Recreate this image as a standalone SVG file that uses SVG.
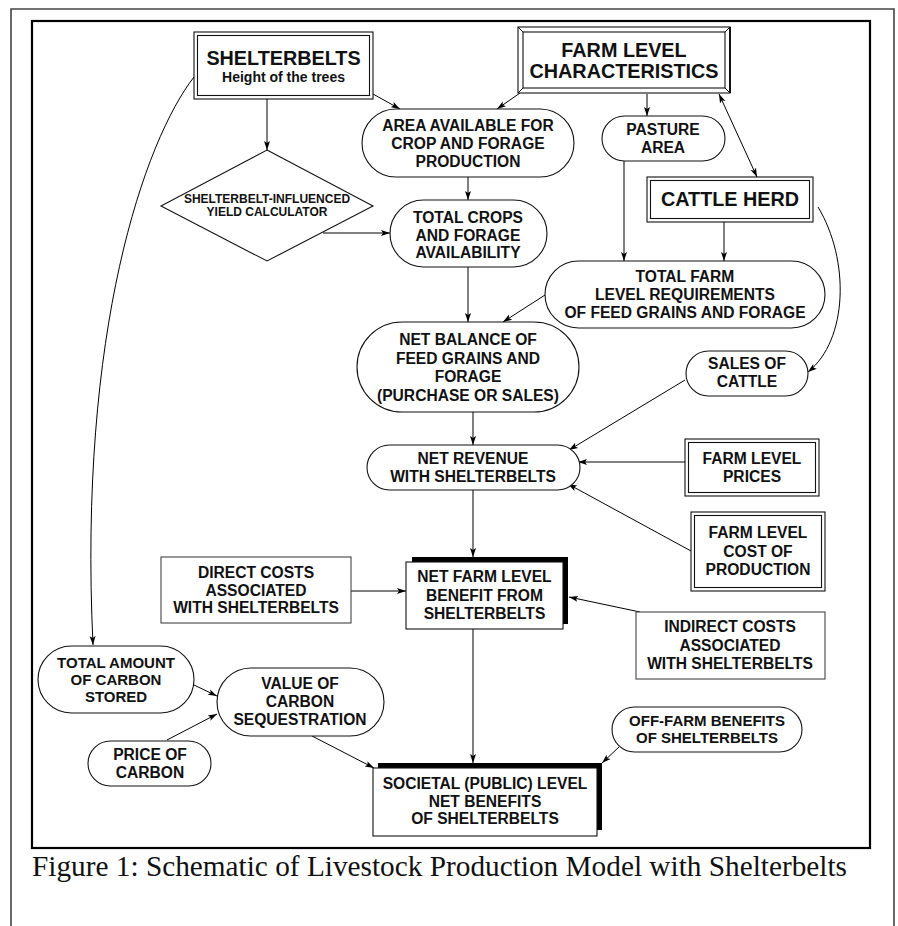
<svg xmlns="http://www.w3.org/2000/svg" width="898" height="926" viewBox="0 0 898 926">
<style>
.n{fill:#fff;stroke:#111;stroke-width:1.1}
.t{font-family:"Liberation Sans",Arial,sans-serif;font-weight:bold;font-size:15.6px;text-anchor:middle;fill:#111}
.big{font-size:19.8px}
.sm{font-size:15px}
.c{fill:none;stroke:#000;stroke-width:1}
.sh{fill:#000}
</style>
<defs>
<marker id="ah" markerWidth="10" markerHeight="8" refX="9" refY="4" orient="auto-start-reverse" markerUnits="userSpaceOnUse"><path d="M0,1 L9,4 L0,7 L2,4 z" fill="#000"/></marker>
</defs>
<rect width="898" height="926" fill="#fff"/>
<g id="frame">
<path d="M11,926 L11,9 L894,9 L894,926" fill="none" stroke="#444" stroke-width="1.6"/>
<rect x="32" y="21" width="838" height="827" fill="none" stroke="#000" stroke-width="2.2"/>
</g>
<g id="connectors">
<line class="c" x1="267" y1="99" x2="267" y2="150" marker-end="url(#ah)"/>
<line class="c" x1="373" y1="94" x2="400" y2="109" marker-end="url(#ah)"/>
<line class="c" x1="520" y1="93" x2="497" y2="109" marker-end="url(#ah)"/>
<line class="c" x1="647" y1="94" x2="647" y2="116" marker-end="url(#ah)"/>
<line class="c" x1="719" y1="94" x2="757" y2="177" marker-start="url(#ah)" marker-end="url(#ah)"/>
<line class="c" x1="323" y1="233" x2="390" y2="233" marker-end="url(#ah)"/>
<line class="c" x1="468" y1="177" x2="468" y2="200" marker-end="url(#ah)"/>
<line class="c" x1="624" y1="161" x2="624" y2="261" marker-end="url(#ah)"/>
<line class="c" x1="724" y1="222" x2="724" y2="261" marker-end="url(#ah)"/>
<path class="c" d="M818,207 C850,260 848,340 808,372" marker-end="url(#ah)"/>
<line class="c" x1="468" y1="267" x2="468" y2="322" marker-end="url(#ah)"/>
<line class="c" x1="545" y1="295" x2="503" y2="322" marker-end="url(#ah)"/>
<line class="c" x1="473" y1="412" x2="473" y2="445" marker-end="url(#ah)"/>
<line class="c" x1="685" y1="380" x2="569" y2="450" marker-end="url(#ah)"/>
<line class="c" x1="685" y1="462" x2="578" y2="462" marker-end="url(#ah)"/>
<line class="c" x1="691" y1="551" x2="568" y2="484" marker-end="url(#ah)"/>
<line class="c" x1="473" y1="490" x2="473" y2="557" marker-end="url(#ah)"/>
<line class="c" x1="351" y1="591" x2="406" y2="591" marker-end="url(#ah)"/>
<line class="c" x1="640" y1="612" x2="569" y2="597" marker-end="url(#ah)"/>
<line class="c" x1="473" y1="629" x2="473" y2="763" marker-end="url(#ah)"/>
<path class="c" d="M194,77 C145,140 78,330 93,645" marker-end="url(#ah)"/>
<line class="c" x1="194" y1="685" x2="217" y2="696" marker-end="url(#ah)"/>
<line class="c" x1="167" y1="740" x2="217" y2="714" marker-end="url(#ah)"/>
<line class="c" x1="312" y1="736" x2="374" y2="768" marker-end="url(#ah)"/>
<line class="c" x1="619" y1="747" x2="602" y2="763" marker-end="url(#ah)"/>
</g>
<g id="shelterbelts">
<rect class="n" x="194" y="32" width="179" height="67"/>
<rect class="n" x="197.5" y="35.5" width="172" height="60"/>
<text class="t big" x="283.5" y="65">SHELTERBELTS</text>
<text class="t" x="283.5" y="82" style="font-size:14px">Height of the trees</text>
</g>
<g id="farm-level-characteristics">
<rect class="n" x="518" y="27" width="212" height="66"/>
<rect class="n" x="523" y="32" width="202" height="56"/>
<path d="M518,27 L523,32 M730,27 L725,32 M518,93 L523,88 M730,93 L725,88" stroke="#111" stroke-width="1"/>
<line x1="730" y1="27" x2="730" y2="93" stroke="#111" stroke-width="2"/>
<text class="t big" x="624" y="57">FARM LEVEL</text>
<text class="t big" x="624" y="78">CHARACTERISTICS</text>
</g>
<g id="area-available">
<rect class="n" x="362" y="109" width="212" height="68" rx="34"/>
<text class="t" x="468" y="131">AREA AVAILABLE FOR</text>
<text class="t" x="468" y="149">CROP AND FORAGE</text>
<text class="t" x="468" y="167">PRODUCTION</text>
</g>
<g id="pasture-area">
<rect class="n" x="602" y="116" width="123" height="45" rx="22.5"/>
<text class="t" x="663" y="135">PASTURE</text>
<text class="t" x="663" y="153">AREA</text>
</g>
<g id="cattle-herd">
<rect class="n" x="647" y="177" width="166" height="45"/>
<rect class="n" x="650.5" y="180.5" width="159" height="38"/>
<text class="t big" x="730" y="206">CATTLE HERD</text>
</g>
<g id="yield-calculator">
<polygon class="n" points="267,150 373,206 267,261 161,206"/>
<text class="t" x="267" y="203" style="font-size:12px">SHELTERBELT-INFLUENCED</text>
<text class="t" x="267" y="215.5" style="font-size:12px">YIELD CALCULATOR</text>
</g>
<g id="total-crops">
<rect class="n" x="390" y="200" width="157" height="67" rx="33.5"/>
<text class="t" x="468" y="223">TOTAL CROPS</text>
<text class="t" x="468" y="240.5">AND FORAGE</text>
<text class="t" x="468" y="258">AVAILABILITY</text>
</g>
<g id="total-farm-requirements">
<rect class="n" x="545" y="261" width="280" height="67" rx="33.5"/>
<text class="t" x="685" y="282">TOTAL FARM</text>
<text class="t" x="685" y="300">LEVEL REQUIREMENTS</text>
<text class="t" x="685" y="318">OF FEED GRAINS AND FORAGE</text>
</g>
<g id="net-balance">
<rect class="n" x="357" y="322" width="222" height="90" rx="45"/>
<text class="t" x="468" y="345">NET BALANCE OF</text>
<text class="t" x="468" y="363.5">FEED GRAINS AND</text>
<text class="t" x="468" y="382">FORAGE</text>
<text class="t" x="468" y="401">(PURCHASE OR SALES)</text>
</g>
<g id="sales-of-cattle">
<rect class="n" x="686" y="351" width="122" height="45" rx="22.5"/>
<text class="t" x="747" y="369">SALES OF</text>
<text class="t" x="747" y="387">CATTLE</text>
</g>
<g id="net-revenue">
<rect class="n" x="367" y="445" width="213" height="45" rx="22.5"/>
<text class="t" x="473" y="464">NET REVENUE</text>
<text class="t" x="473" y="482">WITH SHELTERBELTS</text>
</g>
<g id="farm-level-prices">
<rect class="n" x="685" y="439" width="134" height="57"/>
<rect class="n" x="688.5" y="442.5" width="127" height="50"/>
<text class="t" x="752" y="464">FARM LEVEL</text>
<text class="t" x="752" y="482">PRICES</text>
</g>
<g id="farm-level-cost">
<rect class="n" x="691" y="512" width="134" height="79"/>
<rect class="n" x="694.5" y="515.5" width="127" height="72"/>
<text class="t" x="758" y="538">FARM LEVEL</text>
<text class="t" x="758" y="557">COST OF</text>
<text class="t" x="758" y="575">PRODUCTION</text>
</g>
<g id="net-farm-benefit">
<rect class="sh" x="412" y="557" width="156" height="67"/>
<rect class="n" x="406" y="562" width="157" height="67"/>
<text class="t" x="484.5" y="582">NET FARM LEVEL</text>
<text class="t" x="484.5" y="601">BENEFIT FROM</text>
<text class="t" x="484.5" y="619">SHELTERBELTS</text>
</g>
<g id="direct-costs">
<rect class="n" x="161" y="557" width="190" height="66" style="stroke:#444"/>
<text class="t" x="256" y="578">DIRECT COSTS</text>
<text class="t" x="256" y="596">ASSOCIATED</text>
<text class="t" x="256" y="613">WITH SHELTERBELTS</text>
</g>
<g id="indirect-costs">
<rect class="n" x="636" y="612" width="189" height="67" style="stroke:#444"/>
<text class="t" x="730" y="632">INDIRECT COSTS</text>
<text class="t" x="730" y="651">ASSOCIATED</text>
<text class="t" x="730" y="669">WITH SHELTERBELTS</text>
</g>
<g id="total-carbon">
<rect class="n" x="38" y="646" width="156" height="67" rx="33.5"/>
<text class="t sm" x="116" y="668">TOTAL AMOUNT</text>
<text class="t sm" x="116" y="685">OF CARBON</text>
<text class="t sm" x="116" y="702">STORED</text>
</g>
<g id="value-carbon">
<rect class="n" x="217" y="668" width="167" height="68" rx="34"/>
<text class="t" x="300" y="689">VALUE OF</text>
<text class="t" x="300" y="707">CARBON</text>
<text class="t" x="300" y="725">SEQUESTRATION</text>
</g>
<g id="price-carbon">
<rect class="n" x="88" y="741" width="123" height="45" rx="22.5"/>
<text class="t" x="150" y="760">PRICE OF</text>
<text class="t" x="150" y="778">CARBON</text>
</g>
<g id="off-farm-benefits">
<rect class="n" x="612" y="707" width="190" height="45" rx="22.5"/>
<text class="t sm" x="707" y="726">OFF-FARM BENEFITS</text>
<text class="t sm" x="707" y="743">OF SHELTERBELTS</text>
</g>
<g id="societal-benefits">
<rect class="sh" x="378" y="763" width="224" height="67"/>
<rect class="n" x="373" y="768" width="224" height="68"/>
<text class="t" x="485" y="789">SOCIETAL (PUBLIC) LEVEL</text>
<text class="t" x="485" y="807">NET BENEFITS</text>
<text class="t" x="485" y="824">OF SHELTERBELTS</text>
</g>
<text x="32" y="876" font-family="'Liberation Serif','Times New Roman',serif" font-size="29" textLength="815" lengthAdjust="spacingAndGlyphs" fill="#111">Figure 1: Schematic of Livestock Production Model with Shelterbelts</text>
</svg>
